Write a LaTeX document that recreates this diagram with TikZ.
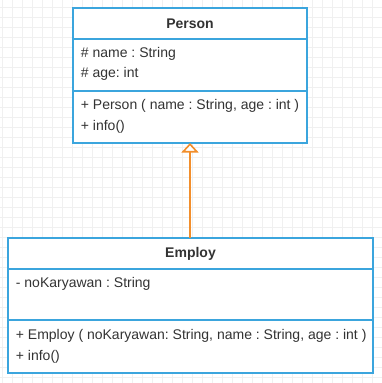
\documentclass[tikz,border=0pt]{standalone}
\usepackage{fontspec}
\setmainfont{Liberation Sans}
\usetikzlibrary{arrows.meta}
\definecolor{umlblue}{HTML}{3BA5DD}
\definecolor{inherit}{HTML}{F28E2B}
\definecolor{umltext}{HTML}{333333}
\definecolor{gridgray}{HTML}{F0F0F0}
\frenchspacing
\tikzset{
  compart/.style={draw=umlblue, line width=2pt, fill=white, anchor=north west,
    inner sep=0pt, outer sep=0pt},
  member/.style={anchor=west, inner sep=0pt, text=umltext,
    font=\fontsize{14}{16}\selectfont},
  classname/.style={inner sep=0pt, text=umltext,
    font=\fontsize{14}{16}\selectfont\bfseries},
  gridline/.style={draw=gridgray, line width=0.8pt},
  generalize/.style={draw=inherit, line width=2pt,
    -{Triangle[length=9.5pt, width=17pt, fill=white, line width=1.6pt]}}
}
\begin{document}
\begin{tikzpicture}[x=1pt, y=-1pt]
  \useasboundingbox (0,0) rectangle (382,383);
  \fill[white] (0,0) rectangle (382,383);
  % background grid
  \foreach \gx in {0,...,37} {
    \draw[gridline] (2.67+10*\gx,0) -- (2.67+10*\gx,383);
  }
  \foreach \gy in {0,...,37} {
    \draw[gridline] (0,7.33+10*\gy) -- (382,7.33+10*\gy);
  }

  % class Person
  \node[compart, minimum width=234pt, minimum height=31pt] (ptitle) at (73,8) {};
  \node[compart, minimum width=234pt, minimum height=52pt] (pattr) at (73,39) {};
  \node[compart, minimum width=234pt, minimum height=52pt] (pmeth) at (73,91) {};
  \node[classname] (pname) at (ptitle.center) {Person};
  \node[member] (pa1) at (80.7,54) {\# name : String};
  \node[member] (pa2) at (80.7,74) {\# age: int};
  \node[member] (pm1) at (80.7,106) {+ Person ( name : String, age : int )};
  \node[member] (pm2) at (80.7,127) {+ info()};

  % class Employ
  \node[compart, minimum width=365pt, minimum height=31pt] (etitle) at (8,238) {};
  \node[compart, minimum width=365pt, minimum height=51pt] (eattr) at (8,269) {};
  \node[compart, minimum width=365pt, minimum height=53pt] (emeth) at (8,320) {};
  \node[classname] (ename) at (etitle.center) {Employ};
  \node[member] (ea1) at (15.7,284) {- noKaryawan : String};
  \node[member] (em1) at (15.7,336) {+ Employ ( noKaryawan: String, name : String, age : int )};
  \node[member] (em2) at (15.7,357) {+ info()};

  % generalization
  \draw[generalize] (etitle.north -| pmeth.south) -- (pmeth.south);
\end{tikzpicture}
\end{document}
